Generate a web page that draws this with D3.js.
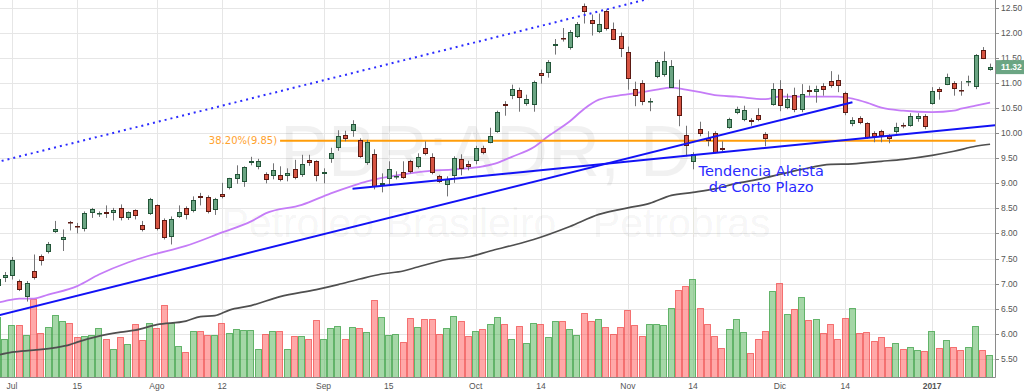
<!DOCTYPE html>
<html>
<head>
<meta charset="utf-8">
<script src="https://cdn.jsdelivr.net/npm/d3@7"></script>
<style>
  html, body { margin: 0; padding: 0; background: #fff; }
  svg { display: block; }
</style>
</head>
<body>
<svg id="chart" width="1024" height="391"></svg>
<script>
// daily bars, PBR (Jun 29 2016 - Jan 13 2017)
const dates = [
  "2016-06-29","2016-06-30","2016-07-01","2016-07-05","2016-07-06","2016-07-07","2016-07-08","2016-07-11","2016-07-12","2016-07-13",
  "2016-07-14","2016-07-15","2016-07-18","2016-07-19","2016-07-20","2016-07-21","2016-07-22","2016-07-25","2016-07-26","2016-07-27",
  "2016-07-28","2016-07-29","2016-08-01","2016-08-02","2016-08-03","2016-08-04","2016-08-05","2016-08-08","2016-08-09","2016-08-10",
  "2016-08-11","2016-08-12","2016-08-15","2016-08-16","2016-08-17","2016-08-18","2016-08-19","2016-08-22","2016-08-23","2016-08-24",
  "2016-08-25","2016-08-26","2016-08-29","2016-08-30","2016-08-31","2016-09-01","2016-09-02","2016-09-06","2016-09-07","2016-09-08",
  "2016-09-09","2016-09-12","2016-09-13","2016-09-14","2016-09-15","2016-09-16","2016-09-19","2016-09-20","2016-09-21","2016-09-22",
  "2016-09-23","2016-09-26","2016-09-27","2016-09-28","2016-09-29","2016-09-30","2016-10-03","2016-10-04","2016-10-05","2016-10-06",
  "2016-10-07","2016-10-10","2016-10-11","2016-10-12","2016-10-13","2016-10-14","2016-10-17","2016-10-18","2016-10-19","2016-10-20",
  "2016-10-21","2016-10-24","2016-10-25","2016-10-26","2016-10-27","2016-10-28","2016-10-31","2016-11-01","2016-11-02","2016-11-03",
  "2016-11-04","2016-11-07","2016-11-08","2016-11-09","2016-11-10","2016-11-11","2016-11-14","2016-11-15","2016-11-16","2016-11-17",
  "2016-11-18","2016-11-21","2016-11-22","2016-11-23","2016-11-25","2016-11-28","2016-11-29","2016-11-30","2016-12-01","2016-12-02",
  "2016-12-05","2016-12-06","2016-12-07","2016-12-08","2016-12-09","2016-12-12","2016-12-13","2016-12-14","2016-12-15","2016-12-16",
  "2016-12-19","2016-12-20","2016-12-21","2016-12-22","2016-12-23","2016-12-27","2016-12-28","2016-12-29","2016-12-30","2017-01-03",
  "2017-01-04","2017-01-05","2017-01-06","2017-01-09","2017-01-10","2017-01-11","2017-01-12","2017-01-13"
];
const openP = [
  6.95,7.12,7.15,7.06,6.74,7.25,7.54,7.62,8.03,7.87, 8.23,8.15,8.08,8.40,8.38,8.42,8.40,8.51,8.30,8.46,
  8.17,8.39,8.56,8.26,7.93,8.32,8.51,8.44,8.74,8.73, 8.46,8.78,8.90,9.08,9.03,9.41,9.33,9.18,9.14,9.16,
  9.14,9.29,9.16,9.47,9.44,9.18,9.48,9.71,9.97,10.04, 9.86,9.40,9.59,8.97,9.08,9.12,9.22,9.44,9.33,9.71,
  9.52,9.14,8.96,9.14,9.48,9.38,9.44,9.70,9.81,10.03, 10.59,10.74,10.86,10.59,10.56,11.21,11.21,11.75,11.91,11.70,
  11.92,12.54,12.27,12.02,12.44,12.08,11.94,11.63,10.89,11.01, 10.63,11.12,11.16,10.91,10.75,9.96,9.43,10.09,9.91,10.01,
  9.71,10.11,10.41,10.27,10.27,10.37,9.98,10.57,10.89,10.51, 10.76,10.46,10.87,10.82,10.95,11.04,11.07,10.81,10.19,10.31,
  10.21,10.01,10.05,9.94,10.03,10.17,10.15,10.29,10.34,10.59, 10.89,10.97,11.01,10.86,11.03,10.92,11.66,11.27
];
const highP = [
  7.15,7.23,7.53,7.08,7.05,7.58,7.58,7.83,8.25,8.08, 8.25,8.21,8.44,8.51,8.44,8.56,8.51,8.58,8.44,8.48,
  8.25,8.71,8.58,8.30,8.34,8.56,8.54,8.74,8.81,8.76, 8.71,9.01,9.11,9.36,9.34,9.53,9.49,9.22,9.40,9.34,
  9.30,9.47,9.57,9.57,9.46,9.30,9.71,10.06,10.05,10.26, 9.90,9.87,9.68,9.20,9.44,9.24,9.44,9.47,9.60,9.84,
  9.60,9.17,9.14,9.54,9.58,9.45,9.75,9.75,10.11,10.45, 10.64,10.97,10.91,10.77,11.05,11.27,11.46,11.88,12.10,12.06,
  12.22,12.59,12.37,12.39,12.47,12.21,12.01,11.73,11.03,11.06, 10.70,11.46,11.63,11.46,11.07,10.15,9.62,10.23,10.04,10.04,
  9.84,10.31,10.53,10.55,10.30,10.50,10.02,11.00,11.06,10.79, 10.91,10.98,10.95,10.95,11.00,11.24,11.17,10.83,10.32,10.34,
  10.22,10.04,10.07,9.98,10.21,10.21,10.40,10.40,10.38,10.92, 10.92,11.19,11.04,11.04,11.15,11.58,11.72,11.39
];
const lowP = [
  6.90,7.03,7.08,6.85,6.64,7.08,7.36,7.60,8.01,7.65, 8.06,8.00,8.04,8.31,8.33,8.31,8.26,8.26,8.27,8.28,
  8.04,8.37,8.06,7.88,7.78,8.31,8.28,8.42,8.56,8.40, 8.37,8.70,8.88,8.99,8.93,9.36,9.28,9.00,9.08,9.04,
  9.04,9.08,9.13,9.35,9.04,9.00,9.41,9.65,9.84,9.93, 9.51,9.37,8.88,8.82,8.98,9.08,9.09,9.20,9.30,9.56,
  9.18,9.01,8.74,9.01,9.16,9.26,9.38,9.58,9.80,10.01, 10.35,10.68,10.43,10.55,10.43,10.99,11.11,11.57,11.83,11.67,
  11.90,12.19,11.95,12.00,12.05,11.86,11.52,10.87,10.54,10.56, 10.44,11.10,11.13,10.91,10.14,9.54,9.28,9.94,9.74,9.60,
  9.64,10.09,10.38,10.24,10.15,10.24,9.74,10.55,10.44,10.48, 10.42,10.42,10.75,10.61,10.75,10.91,10.82,10.36,10.14,10.18,
  9.89,9.82,9.82,9.80,9.99,10.10,10.13,10.23,10.08,10.57, 10.67,10.96,10.75,10.75,10.94,10.88,11.48,11.25
];
const closeP = [
  7.10,7.17,7.47,6.88,7.01,7.11,7.46,7.78,8.09,7.93, 8.20,8.12,8.40,8.48,8.40,8.38,8.47,8.30,8.42,8.34,
  8.06,8.69,8.08,7.90,8.29,8.42,8.37,8.66,8.70,8.42, 8.69,8.73,9.10,9.18,9.32,9.44,9.45,9.06,9.26,9.06,
  9.21,9.11,9.39,9.40,9.14,9.22,9.60,9.95,9.89,10.19, 9.53,9.82,8.93,9.00,9.29,9.14,9.11,9.22,9.53,9.58,
  9.20,9.02,9.08,9.51,9.29,9.33,9.71,9.60,9.94,10.42, 10.54,10.89,10.71,10.69,11.02,11.14,11.43,11.79,11.89,12.02,
  12.19,12.42,12.19,12.19,12.09,11.87,11.69,11.09,10.74,10.62, 10.65,11.43,11.45,11.34,10.34,9.74,9.59,9.99,9.84,9.61,
  9.66,10.29,10.49,10.47,10.22,10.26,9.88,10.89,10.54,10.69, 10.46,10.79,10.82,10.89,10.86,10.95,10.95,10.40,10.27,10.21,
  9.91,9.93,9.94,9.89,10.12,10.15,10.34,10.35,10.12,10.84, 10.82,11.12,10.89,10.85,11.05,11.57,11.49,11.32
];
// volume, millions of shares
const volume = [
  30,19,26,26,21,39,22,25,31,28, 27,20,20.5,21,24.6,18.8,13.8,19.8,16.5,26.3,
  18.5,27,24.6,36,27,15.7,12.3,23,23,21, 21,27,22,24,23.5,23.5,13.8,21.3,23,23,
  13.8,20.7,20.7,18.8,28.5,18.8,24.3,25.5,18.8,24.8, 24.3,22.3,38.5,30,21,21.3,17.3,29.3,24.8,28.8,
  28.8,21.5,24.3,30.7,27.8,20.7,23,23.8,26.5,30, 26.3,18.8,25.5,16.8,26.8,26.5,19.8,28.2,28.2,23.8,
  21,32.2,28.2,28.8,24.8,21.3,24.8,33.5,26,20.5, 26.5,26.3,26,34.3,43.5,45.5,49.2,34.7,26.3,20.7,
  14.3,23.8,28.8,22.7,11.8,19,23,43.2,46.8,31.3, 34,39.8,28.5,28.8,22.2,26.5,19,29.3,34.3,22.2,
  22.7,18,19.8,14.8,16.8,13.8,15.2,13.5,13,23.2, 14.3,18.5,15.2,13.5,15.2,25.5,13.5,11
];

// moving averages
const maFastDates = ["2016-06-29","2016-06-30","2016-07-05","2016-07-07","2016-07-11","2016-07-15","2016-07-20","2016-07-26","2016-07-29","2016-08-05",
  "2016-08-12","2016-08-18","2016-08-22","2016-08-29","2016-09-02","2016-09-08","2016-09-12","2016-09-19","2016-09-22","2016-09-28",
  "2016-10-04","2016-10-06","2016-10-07","2016-10-10","2016-10-13","2016-10-17","2016-10-20","2016-10-24","2016-10-26","2016-10-31",
  "2016-11-03","2016-11-07","2016-11-09","2016-11-11","2016-11-15","2016-11-17","2016-11-22","2016-11-29","2016-12-01","2016-12-07",
  "2016-12-13","2016-12-15","2016-12-19","2016-12-21","2016-12-27","2017-01-03","2017-01-06","2017-01-09","2017-01-11","2017-01-13"];
const maFastValues = [6.62,6.65,6.70,6.70,6.78,6.95,7.18,7.42,7.56,7.75,
  8.02,8.24,8.40,8.57,8.80,8.95,9.04,9.18,9.24,9.28,
  9.34,9.41,9.47,9.53,9.72,9.94,10.24,10.49,10.67,10.76,
  10.82,10.87,10.91,10.87,10.82,10.76,10.73,10.68,10.73,10.73,
  10.73,10.69,10.61,10.51,10.45,10.42,10.45,10.49,10.55,10.61];
const maSlowDates = ["2016-06-29","2016-07-01","2016-07-07","2016-07-12","2016-07-14","2016-07-15","2016-07-20","2016-07-25","2016-07-27","2016-08-01",
  "2016-08-05","2016-08-09","2016-08-11","2016-08-15","2016-08-18","2016-08-24","2016-08-31","2016-09-06","2016-09-09","2016-09-14",
  "2016-09-19","2016-09-21","2016-09-27","2016-09-30","2016-10-05","2016-10-10","2016-10-13","2016-10-20","2016-10-26","2016-11-01",
  "2016-11-04","2016-11-09","2016-11-14","2016-11-17","2016-11-22","2016-11-28","2016-12-06","2016-12-12","2016-12-15","2016-12-21",
  "2016-12-27","2017-01-03","2017-01-06","2017-01-11","2017-01-13"];
const maSlowValues = [5.57,5.63,5.67,5.72,5.78,5.83,5.95,6.03,6.07,6.18,
  6.25,6.34,6.36,6.47,6.56,6.74,6.88,6.98,7.09,7.19,
  7.25,7.33,7.48,7.53,7.65,7.76,7.88,8.14,8.38,8.51,
  8.60,8.76,8.82,8.89,9.00,9.08,9.28,9.38,9.39,9.44,
  9.48,9.56,9.64,9.74,9.78];

// drawings
const channelDates = ["2016-07-01", "2016-10-24"];
const channelPrices = [9.50, 12.36];
const longTrendDates = ["2016-06-29", "2016-12-15"];
const longTrendPrices = [6.36, 10.62];
const shortTrendDates = ["2016-09-08", "2017-01-13"];
const shortTrendPrices = [8.89, 10.15];
const fibDates = ["2016-08-24", "2017-01-11"];
const fibLevel = 9.85;
const fibLabel = "38.20%(9.85)";
const noteLines = ["Tendencia Alcista", "de Corto Plazo"];
const noteDate = "2016-11-28";
const notePrice = 9.14;

// axes
const priceTicks = [5.5, 6, 6.5, 7, 7.5, 8, 8.5, 9, 9.5, 10, 10.5, 11, 11.5, 12, 12.5];
const tickDates = ["2016-07-01","2016-07-15","2016-08-01","2016-08-12","2016-09-01","2016-09-15","2016-10-03","2016-10-14","2016-11-01","2016-11-14","2016-12-01","2016-12-14","2017-01-03"];
const tickLabels = ["Jul","15","Ago","12","Sep","15","Oct","14","Nov","14","Dic","14","2017"];

const plotRight = 995, plotBottom = 377;
const svg = d3.select("#chart");

const x = d3.scaleBand().domain(dates).range([-6.1, 993.7]).padding(0);
const cx = d => x(d) + x.bandwidth() / 2;
const y = d3.scaleLinear().domain([5.5, 12.5]).range([358.7, 8]);
const yVol = d3.scaleLinear().domain([0, 50]).range([plotBottom, plotBottom - 100]);

const bars = dates.map((d, i) => ({date: d, o: openP[i], h: highP[i], l: lowP[i], c: closeP[i], v: volume[i], up: closeP[i] >= openP[i]}));

svg.append("defs").append("clipPath").attr("id", "plotClip")
  .append("rect").attr("x", 0).attr("y", 0).attr("width", plotRight).attr("height", plotBottom);

const plot = svg.append("g").attr("clip-path", "url(#plotClip)");

// grid
plot.append("g").selectAll("line").data(priceTicks).enter().append("line")
  .attr("x1", 0).attr("x2", plotRight)
  .attr("y1", d => Math.round(y(d)) + 0.5).attr("y2", d => Math.round(y(d)) + 0.5)
  .attr("stroke", "#e6e6e6");
plot.append("g").selectAll("line").data(tickDates).enter().append("line")
  .attr("x1", d => Math.round(cx(d)) + 0.5).attr("x2", d => Math.round(cx(d)) + 0.5)
  .attr("y1", 0).attr("y2", plotBottom)
  .attr("stroke", "#e6e6e6");

// watermark
plot.append("text").attr("x", 486).attr("y", 176).attr("text-anchor", "middle")
  .attr("font-family", "Liberation Sans, Arial, sans-serif").attr("font-size", 72)
  .attr("fill", "#000").attr("fill-opacity", 0.055).text("PBR:ADR, D");
plot.append("text").attr("x", 496).attr("y", 237).attr("text-anchor", "middle")
  .attr("font-family", "Liberation Sans, Arial, sans-serif").attr("font-size", 41)
  .attr("fill", "#000").attr("fill-opacity", 0.055).text("Petroleo Brasileiro - Petrobras");

// volume
plot.append("g").selectAll("rect").data(bars).enter().append("rect")
  .attr("x", d => Math.round(x(d.date)) + 0.5)
  .attr("width", d => Math.round(x.bandwidth()) - 1)
  .attr("y", d => Math.round(yVol(d.v)) + 0.5)
  .attr("height", d => plotBottom - Math.round(yVol(d.v)))
  .attr("fill", d => d.up ? "rgba(76,175,80,0.5)" : "rgba(255,82,82,0.5)")
  .attr("stroke", d => d.up ? "rgba(60,160,70,0.75)" : "rgba(240,70,70,0.7)");

// moving averages
const maLine = d3.line().x(d => cx(d[0])).y(d => y(d[1])).curve(d3.curveMonotoneX);
plot.append("path").datum(d3.zip(maSlowDates, maSlowValues))
  .attr("d", maLine).attr("fill", "none").attr("stroke", "#4f4f4f").attr("stroke-width", 1.7);
plot.append("path").datum(d3.zip(maFastDates, maFastValues))
  .attr("d", maLine).attr("fill", "none").attr("stroke", "#c57cf7").attr("stroke-width", 1.8);

// fib level
plot.append("line")
  .attr("x1", cx(fibDates[0])).attr("x2", cx(fibDates[1]))
  .attr("y1", y(fibLevel)).attr("y2", y(fibLevel))
  .attr("stroke", "#ff9d0a").attr("stroke-width", 2);
plot.append("text").attr("x", cx(fibDates[0]) - 3).attr("y", y(fibLevel) + 3.5)
  .attr("text-anchor", "end").attr("font-family", "DejaVu Sans, sans-serif").attr("font-size", 10)
  .attr("fill", "#ffa22e").text(fibLabel);

// candles
const candles = plot.append("g");
candles.selectAll("line").data(bars).enter().append("line")
  .attr("x1", d => Math.round(cx(d.date)) + 0.5).attr("x2", d => Math.round(cx(d.date)) + 0.5)
  .attr("y1", d => y(d.h)).attr("y2", d => y(d.l))
  .attr("stroke", "#737375");
candles.selectAll("rect").data(bars).enter().append("rect")
  .attr("x", d => Math.round(cx(d.date)) - 1.5)
  .attr("width", 4)
  .attr("y", d => Math.round(y(Math.max(d.o, d.c))) + 0.5)
  .attr("height", d => Math.max(Math.round(y(Math.min(d.o, d.c))) - Math.round(y(Math.max(d.o, d.c))) - 1, 0.5))
  .attr("fill", d => d.up ? "#6ba583" : "#d75442")
  .attr("stroke", d => d.up ? "#225437" : "#5b1a13");

// trend lines, extended where they are rays
function ray(ds, ps, extLeft, extRight) {
  const x1 = cx(ds[0]), y1 = y(ps[0]), x2 = cx(ds[1]), y2 = y(ps[1]);
  const k = (y2 - y1) / (x2 - x1);
  const xa = extLeft ? -10 : x1, xb = extRight ? plotRight + 10 : x2;
  return [[xa, y1 + k * (xa - x1)], [xb, y1 + k * (xb - x1)]];
}
const seg = d3.line();
plot.append("path").attr("d", seg(ray(channelDates, channelPrices, true, true)))
  .attr("fill", "none").attr("stroke", "#2b2bff").attr("stroke-width", 2).attr("stroke-dasharray", "2,4");
plot.append("path").attr("d", seg(ray(longTrendDates, longTrendPrices, true, false)))
  .attr("fill", "none").attr("stroke", "#1212f5").attr("stroke-width", 2);
plot.append("path").attr("d", seg(ray(shortTrendDates, shortTrendPrices, false, true)))
  .attr("fill", "none").attr("stroke", "#1212f5").attr("stroke-width", 2);

// note
const note = plot.append("text").attr("text-anchor", "middle")
  .attr("font-family", "DejaVu Sans, sans-serif").attr("font-size", 14.5).attr("fill", "#2a2aff");
noteLines.forEach((t, i) => {
  note.append("tspan").attr("x", cx(noteDate) + 3).attr("y", y(notePrice) + i * 16).text(t);
});

// right axis
svg.append("line").attr("x1", plotRight + 0.5).attr("x2", plotRight + 0.5).attr("y1", 0).attr("y2", plotBottom + 0.5)
  .attr("stroke", "#8a8a8a");
const yAxis = svg.append("g");
yAxis.selectAll("line").data(priceTicks).enter().append("line")
  .attr("x1", plotRight).attr("x2", plotRight + 4)
  .attr("y1", d => Math.round(y(d)) + 0.5).attr("y2", d => Math.round(y(d)) + 0.5)
  .attr("stroke", "#8a8a8a");
yAxis.selectAll("text").data(priceTicks).enter().append("text")
  .attr("x", plotRight + 6).attr("y", d => y(d) + 3)
  .attr("font-family", "Liberation Sans, Arial, sans-serif").attr("font-size", 8.5).attr("fill", "#555")
  .text(d => d.toFixed(2));

// last price tag
const last = bars[bars.length - 1];
svg.append("rect").attr("x", plotRight + 1).attr("y", y(last.c) - 7).attr("width", 1024 - plotRight - 1).attr("height", 14)
  .attr("fill", "#6ba583");
svg.append("text").attr("x", plotRight + 6).attr("y", y(last.c) + 3)
  .attr("font-family", "Liberation Sans, Arial, sans-serif").attr("font-size", 8.5).attr("font-weight", "bold")
  .attr("fill", "#fff").text(last.c.toFixed(2));

// bottom axis
svg.append("line").attr("x1", 0).attr("x2", plotRight + 0.5).attr("y1", plotBottom + 0.5).attr("y2", plotBottom + 0.5)
  .attr("stroke", "#8a8a8a");
svg.append("g").selectAll("text").data(tickDates).enter().append("text")
  .attr("x", d => cx(d)).attr("y", 389).attr("text-anchor", "middle")
  .attr("font-family", "Liberation Sans, Arial, sans-serif").attr("font-size", 8.5).attr("fill", "#555")
  .attr("font-weight", (d, i) => tickLabels[i] === "2017" ? "bold" : "normal")
  .text((d, i) => tickLabels[i]);
</script>
</body>
</html>
